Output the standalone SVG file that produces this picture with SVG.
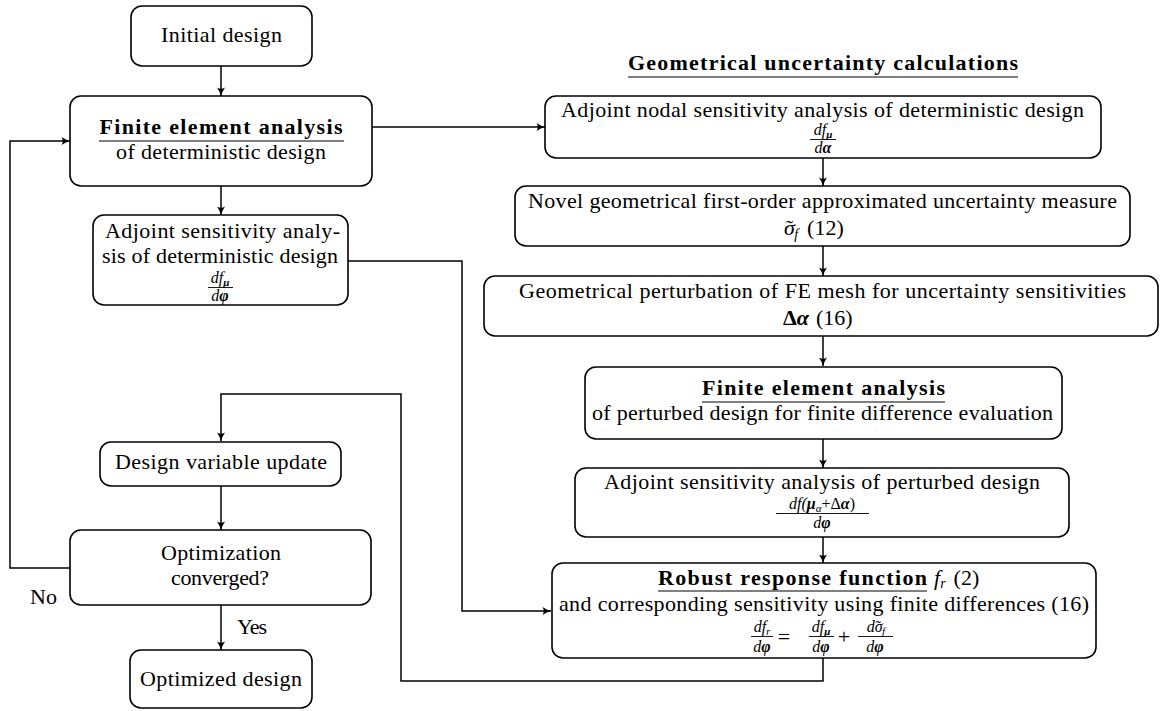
<svg xmlns="http://www.w3.org/2000/svg" width="1160" height="711" viewBox="0 0 1160 711">
<style>
.box{fill:#fff;stroke:#000;stroke-width:1.6}
.t{font-family:"Liberation Serif","DejaVu Serif",serif;font-size:22px;fill:#000;text-anchor:middle}
.s{text-anchor:start}
.b{font-weight:bold}
.i{font-style:italic}
.bi{font-weight:bold;font-style:italic}
.m{font-family:"Liberation Serif","DejaVu Serif",serif;font-size:16px;fill:#000;text-anchor:middle;font-style:italic}
.sub{font-size:11px}
.c{fill:none;stroke:#000;stroke-width:1.5}
.u{stroke:#000;stroke-width:1.2}
.fb{stroke:#000;stroke-width:0.9}
</style>
<defs>
<marker id="a" markerWidth="10" markerHeight="10" refX="9" refY="5" orient="auto" markerUnits="userSpaceOnUse">
<path d="M0.5,1 Q5,4 9,5 Q5,6 0.5,9 Q3,5 0.5,1Z" fill="#000"/>
</marker>
</defs>

<g id="connectors" class="c" marker-end="url(#a)">
<path d="M221,66 V96"/>
<path d="M372,127 H545"/>
<path d="M221,186 V215"/>
<path d="M348,261 H462 V611 H551"/>
<path d="M823,158 V186"/>
<path d="M823,246 V276"/>
<path d="M823,336 V366"/>
<path d="M823,438 V468"/>
<path d="M823,537 V563"/>
<path d="M823,658 V681 H401 V394 H221 V441"/>
<path d="M221,486 V530"/>
<path d="M70,568 H10 V141 H70"/>
<path d="M221,605 V650"/>
</g>

<g id="initial">
<rect class="box" x="131" y="6" width="181" height="60" rx="11"/>
<text class="t" x="221.5" y="42" textLength="121">Initial design</text>
</g>

<g id="fea">
<rect class="box" x="70" y="96" width="302" height="90" rx="11"/>
<text class="t b" x="221" y="134" textLength="243">Finite element analysis</text>
<line class="u" x1="99" y1="141" x2="344" y2="141"/>
<text class="t" x="221" y="159" textLength="210">of deterministic design</text>
</g>

<g id="adjoint-det">
<rect class="box" x="93" y="215" width="255" height="90" rx="11"/>
<text class="t" x="222.5" y="238" textLength="235">Adjoint sensitivity analy-</text>
<text class="t" x="220" y="263" textLength="236">sis of deterministic design</text>
<text class="m" x="220" y="283">df<tspan class="sub bi" dy="3">μ</tspan></text>
<line class="fb" x1="208" y1="287.5" x2="233" y2="287.5"/>
<text class="m" x="220" y="301">d<tspan class="bi">φ</tspan></text>
</g>

<g id="title">
<text class="t b" x="823" y="70" textLength="390">Geometrical uncertainty calculations</text>
<line class="u" x1="628" y1="77" x2="1018" y2="77"/>
</g>

<g id="adjoint-nodal">
<rect class="box" x="545" y="96" width="556" height="62" rx="11"/>
<text class="t" x="822.5" y="117" textLength="523">Adjoint nodal sensitivity analysis of deterministic design</text>
<text class="m" x="823" y="135">df<tspan class="sub bi" dy="3">μ</tspan></text>
<line class="fb" x1="810" y1="139.5" x2="836" y2="139.5"/>
<text class="m" x="823" y="153">d<tspan class="bi">α</tspan></text>
</g>

<g id="novel">
<rect class="box" x="515" y="186" width="615" height="60" rx="11"/>
<text class="t" x="822.5" y="208" textLength="589">Novel geometrical first-order approximated uncertainty measure</text>
<text class="t s" x="784" y="235"><tspan class="i">σ</tspan><tspan dx="-9">˜</tspan><tspan class="i" font-size="14" dx="1" dy="4">f</tspan><tspan dy="-4" dx="9">(12)</tspan></text>
</g>

<g id="perturb">
<rect class="box" x="484" y="276" width="674" height="60" rx="11"/>
<text class="t" x="822.5" y="298" textLength="607">Geometrical perturbation of FE mesh for uncertainty sensitivities</text>
<text class="t s" x="783" y="325"><tspan class="b">Δ</tspan><tspan class="bi">α</tspan><tspan dx="7">(16)</tspan></text>
</g>

<g id="fea-perturbed">
<rect class="box" x="585" y="367" width="477" height="72" rx="11"/>
<text class="t b" x="823.5" y="395" textLength="243">Finite element analysis</text>
<line class="u" x1="702" y1="402" x2="945" y2="402"/>
<text class="t" x="822.5" y="420" textLength="461">of perturbed design for finite difference evaluation</text>
</g>

<g id="adjoint-perturbed">
<rect class="box" x="575" y="468" width="494" height="69" rx="11"/>
<text class="t" x="822" y="489" textLength="436">Adjoint sensitivity analysis of perturbed design</text>
<text class="m" x="822" y="509">df(<tspan class="bi">μ</tspan><tspan class="sub" dy="3">α</tspan><tspan dy="-3" font-style="normal">+Δ</tspan><tspan class="bi">α</tspan><tspan font-style="normal">)</tspan></text>
<line class="fb" x1="776" y1="513.5" x2="869" y2="513.5"/>
<text class="m" x="822" y="528">d<tspan class="bi">φ</tspan></text>
</g>

<g id="robust">
<rect class="box" x="552" y="563" width="544" height="95" rx="11"/>
<text class="t s b" x="658" y="585" textLength="269">Robust response function</text>
<line class="u" x1="658" y1="591" x2="927" y2="591"/>
<text class="t s" x="934" y="585"><tspan class="i">f</tspan><tspan class="i" font-size="14" dy="3">r</tspan><tspan dy="-3" dx="8">(2)</tspan></text>
<text class="t" x="824" y="611" textLength="530">and corresponding sensitivity using finite differences (16)</text>
<text class="m" x="762" y="632">df<tspan class="sub" dy="3">r</tspan></text>
<line class="fb" x1="751" y1="636.5" x2="773" y2="636.5"/>
<text class="m" x="762" y="652">d<tspan class="bi">φ</tspan></text>
<text class="t" x="784" y="644" font-size="20">=</text>
<text class="m" x="821" y="632">df<tspan class="sub bi" dy="3">μ</tspan></text>
<line class="fb" x1="809" y1="636.5" x2="834" y2="636.5"/>
<text class="m" x="821" y="652">d<tspan class="bi">φ</tspan></text>
<text class="t" x="844" y="644" font-size="20">+</text>
<text class="m" x="876" y="632">dσ<tspan dx="-7" font-style="normal">˜</tspan><tspan class="sub" dx="1" dy="3">f</tspan></text>
<line class="fb" x1="858" y1="636.5" x2="893" y2="636.5"/>
<text class="m" x="875" y="652">d<tspan class="bi">φ</tspan></text>
</g>

<g id="update">
<rect class="box" x="100" y="442" width="241" height="44" rx="11"/>
<text class="t" x="221" y="469" textLength="212">Design variable update</text>
</g>

<g id="converged">
<rect class="box" x="70" y="530" width="301" height="75" rx="11"/>
<text class="t" x="221" y="560" textLength="120">Optimization</text>
<text class="t" x="220" y="585" textLength="98">converged?</text>
</g>

<g id="labels">
<text class="t s" x="30" y="604" textLength="27">No</text>
<text class="t s" x="237" y="634" textLength="30">Yes</text>
</g>

<g id="optimized">
<rect class="box" x="130" y="650" width="182" height="58" rx="11"/>
<text class="t" x="221" y="686" textLength="162">Optimized design</text>
</g>
</svg>
